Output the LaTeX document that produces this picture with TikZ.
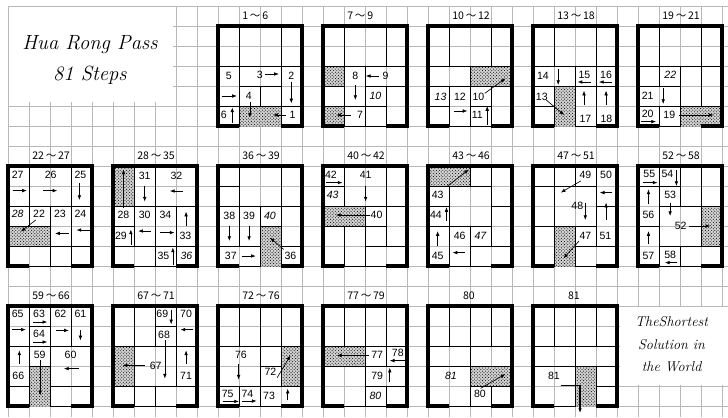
\documentclass[tikz,border=0pt]{standalone}
\usepackage{fontspec}
\newfontfamily\numfont{Liberation Sans}
\newfontfamily\cjk{Noto Sans CJK SC}
\usetikzlibrary{arrows.meta,patterns}

\begin{document}
\begin{tikzpicture}[x=0.7cm,y=-0.6667cm,>={Latex[length=4.5pt,width=3.4pt]},
  gridline/.style={black!28,line width=0.5pt},
  piece/.style={draw=black,line width=0.8pt},
  hole/.style={fill=black!18,postaction={pattern=crosshatch dots,pattern color=black}},
  wall/.style={line width=3.3pt,line join=miter},
  mv/.style={->,line width=0.6pt},
  num/.style={inner sep=0pt,font=\numfont\fontsize{10}{12}\selectfont},
  nxt/.style={inner sep=0pt,font=\numfont\itshape\fontsize{10}{12}\selectfont},
  stage/.style={inner sep=0pt,anchor=west,font=\cjk\fontsize{10}{12}\selectfont},
  hand/.style={inner sep=0pt,font=\itshape\fontsize{19.5}{23}\selectfont}]
\useasboundingbox (-0.381,-0.3) rectangle (34.286,20.55);
% background grid
\foreach \i in {0,...,34} \draw[gridline] (\i,0) -- (\i,20.55);
\foreach \j in {0,...,20} \draw[gridline] (0,\j) -- (34.286,\j);
% title
\fill[white] (0.05,0.05) rectangle (7.85,4.8);
\node[hand] (title) at (3.9,1.95) {Hua Rong Pass};
\node[hand] (count) at (3.9,3.45) {81 Steps};
% closing words
\fill[white] (29.12,15.05) rectangle (34.286,18.95);
\node[hand,font=\itshape\fontsize{13.5}{16}\selectfont] (motto1) at (31.6,15.8) {TheShortest};
\node[hand,font=\itshape\fontsize{13.5}{16}\selectfont] (motto2) at (31.6,16.95) {Solution in};
\node[hand,font=\itshape\fontsize{13.5}{16}\selectfont] (motto3) at (31.6,18.05) {the World};

% moves 1~6
\begin{scope}[shift={(10,1)}]
  \node[stage] (s1) at (1.15,-0.5) {1\,～\,6};
  \fill[hole] (1,4) rectangle (3,5);
  \foreach \a/\b/\c/\d in {0/0/1/2,1/0/3/2,3/0/4/2,0/2/1/4,1/2/3/3,3/2/4/4,1/3/2/4,2/3/3/4,0/4/1/5,3/4/4/5}
    \draw[piece] (\a,\b) rectangle (\c,\d);
  \node[num] (m5) at (0.52,2.5) {5};
  \node[num] (m3) at (1.99,2.45) {3};
  \node[num] (m2) at (3.49,2.5) {2};
  \node[num] (m4) at (1.47,3.5) {4};
  \node[num] (m6) at (0.28,4.45) {6};
  \node[num] (m1) at (3.55,4.45) {1};
  \draw[mv] (0.2,3.5) -- (0.9,3.5);
  \draw[mv] (2.23,2.4) -- (2.9,2.4);
  \draw[mv] (3.49,2.8) -- (3.49,3.87);
  \draw[mv] (1.52,3.78) -- (1.52,4.58);
  \draw[mv] (0.68,4.85) -- (0.68,4.07);
  \draw[mv] (3.26,4.45) -- (2.62,4.45);
  \draw[wall] (1,5) -- (0,5) -- (0,0) -- (4,0) -- (4,5) -- (3,5);
\end{scope}
% moves 7~9
\begin{scope}[shift={(15,1)}]
  \node[stage] (s7) at (1.15,-0.5) {7\,～\,9};
  \fill[hole] (0,2) rectangle (1,3) (0,4) rectangle (1,5);
  \foreach \a/\b/\c/\d in {0/0/1/2,1/0/3/2,3/0/4/2,1/2/2/4,2/2/4/3,2/3/3/4,3/3/4/5,0/3/1/4,1/4/2/5,2/4/3/5}
    \draw[piece] (\a,\b) rectangle (\c,\d);
  \node[num] (m8) at (1.54,2.5) {8};
  \node[num] (m9) at (2.98,2.5) {9};
  \node[nxt] (n10) at (2.5,3.5) {10};
  \node[num] (m7) at (1.77,4.45) {7};
  \draw[mv] (1.54,2.95) -- (1.54,3.7);
  \draw[mv] (2.67,2.5) -- (2.04,2.5);
  \draw[mv] (1.33,4.45) -- (0.63,4.45);
  \draw[wall] (1,5) -- (0,5) -- (0,0) -- (4,0) -- (4,5) -- (3,5);
\end{scope}
% moves 10~12
\begin{scope}[shift={(20,1)}]
  \node[stage] (s10) at (1.15,-0.5) {10\,～\,12};
  \fill[hole] (2,2) rectangle (4,3);
  \foreach \a/\b/\c/\d in {0/0/1/2,1/0/3/2,3/0/4/2,0/2/2/3,0/3/1/4,0/4/1/5,1/3/2/5,2/3/3/4,2/4/3/5,3/3/4/5}
    \draw[piece] (\a,\b) rectangle (\c,\d);
  \node[nxt] (n13) at (0.6,3.53) {13};
  \node[num] (m12) at (1.52,3.53) {12};
  \node[num] (m10) at (2.4,3.53) {10};
  \node[num] (m11) at (2.35,4.45) {11};
  \draw[mv] (1.22,4.25) -- (1.88,4.25);
  \draw[mv] (2.7,3.37) -- (3.69,2.62);
  \draw[mv] (2.82,4.95) -- (2.82,4.0);
  \draw[wall] (1,5) -- (0,5) -- (0,0) -- (4,0) -- (4,5) -- (3,5);
\end{scope}
% moves 13~18
\begin{scope}[shift={(25,1)}]
  \node[stage] (s13) at (1.15,-0.5) {13\,～\,18};
  \fill[hole] (1,3) rectangle (2,5);
  \foreach \a/\b/\c/\d in {0/0/1/2,1/0/3/2,3/0/4/2,0/2/2/3,2/2/3/3,3/2/4/3,0/3/1/4,0/4/1/5,2/3/3/5,3/3/4/5}
    \draw[piece] (\a,\b) rectangle (\c,\d);
  \node[num] (m14) at (0.47,2.5) {14};
  \node[num] (m15) at (2.45,2.45) {15};
  \node[num] (m16) at (3.48,2.45) {16};
  \node[num] (m13) at (0.42,3.53) {13};
  \node[num] (m17) at (2.5,4.62) {17};
  \node[num] (m18) at (3.5,4.62) {18};
  \draw[mv] (1.2,2.17) -- (1.2,2.95);
  \draw[mv] (2.75,2.8) -- (2.12,2.8);
  \draw[mv] (3.76,2.8) -- (3.14,2.8);
  \draw[mv] (0.63,3.7) -- (1.49,4.45);
  \draw[mv] (2.43,3.95) -- (2.43,3.23);
  \draw[mv] (3.48,3.95) -- (3.48,3.23);
  \draw[wall] (1,5) -- (0,5) -- (0,0) -- (4,0) -- (4,5) -- (3,5);
\end{scope}
% moves 19~21
\begin{scope}[shift={(30,1)}]
  \node[stage] (s19) at (1.15,-0.5) {19\,～\,21};
  \fill[hole] (2,4) rectangle (4,5);
  \foreach \a/\b/\c/\d in {0/0/1/2,1/0/3/2,3/0/4/2,0/2/1/3,1/2/2/3,2/2/3/4,3/2/4/4,0/3/2/4,0/4/1/5,1/4/2/5}
    \draw[piece] (\a,\b) rectangle (\c,\d);
  \node[nxt] (n22) at (1.54,2.45) {22};
  \node[num] (m21) at (0.46,3.5) {21};
  \node[num] (m20) at (0.46,4.4) {20};
  \node[num] (m19) at (1.49,4.45) {19};
  \draw[mv] (1.2,3.12) -- (1.2,3.9);
  \draw[mv] (0.14,4.78) -- (0.86,4.78);
  \draw[mv] (1.97,4.45) -- (3.6,4.45);
  \draw[wall] (1,5) -- (0,5) -- (0,0) -- (4,0) -- (4,5) -- (3,5);
\end{scope}
% moves 22~27
\begin{scope}[shift={(0,8)}]
  \node[stage] (s22) at (1.15,-0.5) {22\,～\,27};
  \fill[hole] (0,3) rectangle (2,4);
  \foreach \a/\b/\c/\d in {0/0/1/2,1/0/3/2,3/0/4/2,0/2/1/3,1/2/2/3,2/2/3/4,3/2/4/4,0/4/2/5,2/4/3/5,3/4/4/5}
    \draw[piece] (\a,\b) rectangle (\c,\d);
  \node[num] (m27) at (0.46,0.45) {27};
  \node[num] (m26) at (2.03,0.45) {26};
  \node[num] (m25) at (3.45,0.45) {25};
  \node[nxt] (n28) at (0.46,2.4) {28};
  \node[num] (m22) at (1.48,2.4) {22};
  \node[num] (m23) at (2.47,2.4) {23};
  \node[num] (m24) at (3.45,2.4) {24};
  \draw[mv] (0.22,1.23) -- (0.9,1.23);
  \draw[mv] (1.69,1.23) -- (2.35,1.23);
  \draw[mv] (3.4,0.87) -- (3.4,1.7);
  \draw[mv] (1.32,2.7) -- (0.61,3.28);
  \draw[mv] (2.9,3.37) -- (2.24,3.37);
  \draw[mv] (3.89,3.2) -- (3.26,3.2);
  \draw[wall] (1,5) -- (0,5) -- (0,0) -- (4,0) -- (4,5) -- (3,5);
\end{scope}
% moves 28~35
\begin{scope}[shift={(5,8)}]
  \node[stage] (s28) at (1.15,-0.5) {28\,～\,35};
  \fill[hole] (0,0) rectangle (1,2);
  \foreach \a/\b/\c/\d in {1/0/2/2,2/0/4/2,0/2/1/3,1/2/2/4,2/2/3/4,3/2/4/4,0/3/1/4,0/4/2/5,2/4/3/5,3/4/4/5}
    \draw[piece] (\a,\b) rectangle (\c,\d);
  \node[num] (m28) at (0.5,2.45) {28};
  \node[num] (m31) at (1.51,0.5) {31};
  \node[num] (m32) at (3.02,0.5) {32};
  \node[num] (m30) at (1.51,2.45) {30};
  \node[num] (m34) at (2.5,2.45) {34};
  \node[num] (m33) at (3.45,3.5) {33};
  \node[num] (m29) at (0.38,3.5) {29};
  \node[num] (m35) at (2.4,4.5) {35};
  \node[nxt] (n36) at (3.5,4.5) {36};
  \draw[mv] (0.5,2.08) -- (0.5,0.17);
  \draw[mv] (1.51,1.0) -- (1.51,1.78);
  \draw[mv] (3.34,1.25) -- (2.71,1.25);
  \draw[mv] (1.8,3.25) -- (1.2,3.25);
  \draw[mv] (2.24,3.33) -- (2.93,3.33);
  \draw[mv] (3.48,3.0) -- (3.48,2.28);
  \draw[mv] (0.85,3.95) -- (0.85,3.17);
  \draw[mv] (2.85,4.95) -- (2.85,4.07);
  \draw[wall] (1,5) -- (0,5) -- (0,0) -- (4,0) -- (4,5) -- (3,5);
\end{scope}
% moves 36~39
\begin{scope}[shift={(10,8)}]
  \node[stage] (s36) at (1.15,-0.5) {36\,～\,39};
  \fill[hole] (2,3) rectangle (3,5);
  \foreach \a/\b/\c/\d in {0/0/1/1,0/1/1/2,1/0/3/2,3/0/4/2,0/2/1/4,1/2/2/4,2/2/3/3,3/2/4/4,0/4/2/5,3/4/4/5}
    \draw[piece] (\a,\b) rectangle (\c,\d);
  \node[num] (m38) at (0.54,2.5) {38};
  \node[num] (m39) at (1.48,2.5) {39};
  \node[nxt] (n40) at (2.47,2.5) {40};
  \node[num] (m37) at (0.61,4.5) {37};
  \node[num] (m36) at (3.45,4.5) {36};
  \draw[mv] (0.54,3.0) -- (0.54,3.75);
  \draw[mv] (1.48,3.0) -- (1.48,3.75);
  \draw[mv] (1.12,4.5) -- (1.8,4.5);
  \draw[mv] (3.13,4.17) -- (2.47,3.58);
  \draw[wall] (1,5) -- (0,5) -- (0,0) -- (4,0) -- (4,5) -- (3,5);
\end{scope}
% moves 40~42
\begin{scope}[shift={(15,8)}]
  \node[stage] (s40) at (1.15,-0.5) {40\,～\,42};
  \fill[hole] (0,2) rectangle (2,3);
  \foreach \a/\b/\c/\d in {0/0/1/1,0/1/1/2,1/0/3/2,3/0/4/2,2/2/3/3,3/2/4/4,0/3/1/5,1/3/2/5,2/3/3/4,2/4/4/5}
    \draw[piece] (\a,\b) rectangle (\c,\d);
  \node[num] (m42) at (0.38,0.42) {42};
  \node[nxt] (n43) at (0.46,1.42) {43};
  \node[num] (m41) at (2.03,0.42) {41};
  \node[num] (m40) at (2.55,2.45) {40};
  \draw[mv] (0.14,0.83) -- (0.93,0.83);
  \draw[mv] (2.03,1.0) -- (2.03,1.78);
  \draw[mv] (2.22,2.45) -- (0.61,2.45);
  \draw[wall] (1,5) -- (0,5) -- (0,0) -- (4,0) -- (4,5) -- (3,5);
\end{scope}
% moves 43~46
\begin{scope}[shift={(20,8)}]
  \node[stage] (s43) at (1.15,-0.5) {43\,～\,46};
  \fill[hole] (0,0) rectangle (2,1);
  \foreach \a/\b/\c/\d in {2/0/3/1,3/0/4/2,0/1/1/2,1/1/3/3,0/2/1/3,3/2/4/4,0/3/1/5,1/3/2/5,2/3/3/4,2/4/4/5}
    \draw[piece] (\a,\b) rectangle (\c,\d);
  \node[num] (m43) at (0.46,1.42) {43};
  \node[num] (m44) at (0.38,2.42) {44};
  \node[num] (m45) at (0.46,4.5) {45};
  \node[num] (m46) at (1.51,3.5) {46};
  \node[nxt] (n47) at (2.5,3.5) {47};
  \draw[mv] (0.93,1.0) -- (1.95,0.17);
  \draw[mv] (0.88,2.75) -- (0.88,2.05);
  \draw[mv] (0.46,4.0) -- (0.46,3.25);
  \draw[mv] (1.75,4.33) -- (1.17,4.33);
  \draw[wall] (1,5) -- (0,5) -- (0,0) -- (4,0) -- (4,5) -- (3,5);
\end{scope}
% moves 47~51
\begin{scope}[shift={(25,8)}]
  \node[stage] (s47) at (1.15,-0.5) {47\,～\,51};
  \fill[hole] (1,3) rectangle (2,5);
  \foreach \a/\b/\c/\d in {0/0/1/1,1/0/2/1,2/0/3/1,3/0/4/2,0/1/1/3,1/1/3/3,0/3/1/5,2/3/3/4,3/2/4/4,2/4/4/5}
    \draw[piece] (\a,\b) rectangle (\c,\d);
  \node[num] (m49) at (2.5,0.42) {49};
  \node[num] (m50) at (3.48,0.42) {50};
  \node[num] (m48) at (2.11,2.0) {48};
  \node[num] (m47) at (2.5,3.5) {47};
  \node[num] (m51) at (3.45,3.5) {51};
  \draw[mv] (2.27,0.75) -- (1.32,1.33);
  \draw[mv] (3.76,1.33) -- (3.18,1.33);
  \draw[mv] (2.49,1.83) -- (2.49,2.7);
  \draw[mv] (2.19,3.75) -- (1.45,4.62);
  \draw[mv] (3.48,2.72) -- (3.48,1.83);
  \draw[wall] (1,5) -- (0,5) -- (0,0) -- (4,0) -- (4,5) -- (3,5);
\end{scope}
% moves 52~58
\begin{scope}[shift={(30,8)}]
  \node[stage] (s52) at (1.15,-0.5) {52\,～\,58};
  \fill[hole] (3,2) rectangle (4,4);
  \foreach \a/\b/\c/\d in {0/0/1/1,1/0/2/1,2/0/3/2,3/0/4/2,1/1/2/2,0/1/1/3,0/3/1/5,1/2/3/4,1/4/2/5,2/4/4/5}
    \draw[piece] (\a,\b) rectangle (\c,\d);
  \node[num] (m55) at (0.54,0.42) {55};
  \node[num] (m54) at (1.4,0.42) {54};
  \node[num] (m53) at (1.53,1.42) {53};
  \node[num] (m56) at (0.5,2.45) {56};
  \node[num] (m57) at (0.5,4.5) {57};
  \node[num] (m52) at (2.03,3.0) {52};
  \node[num] (m58) at (1.53,4.42) {58};
  \draw[mv] (0.25,0.83) -- (0.93,0.83);
  \draw[mv] (1.83,0.2) -- (1.83,1.0);
  \draw[mv] (1.53,1.83) -- (1.53,2.5);
  \draw[mv] (0.5,1.92) -- (0.5,1.17);
  \draw[mv] (0.5,3.92) -- (0.5,3.25);
  \draw[mv] (2.43,3.0) -- (3.45,3.0);
  \draw[mv] (1.87,4.83) -- (1.28,4.83);
  \draw[wall] (1,5) -- (0,5) -- (0,0) -- (4,0) -- (4,5) -- (3,5);
\end{scope}
% moves 59~66
\begin{scope}[shift={(0,15)}]
  \node[stage] (s59) at (1.15,-0.5) {59\,～\,66};
  \fill[hole] (1,3) rectangle (2,5);
  \foreach \a/\b/\c/\d in {0/0/1/2,1/0/2/1,1/1/2/2,2/0/3/2,3/0/4/2,0/2/1/4,1/2/2/3,2/2/4/4,0/4/1/5,2/4/4/5}
    \draw[piece] (\a,\b) rectangle (\c,\d);
  \node[num] (m65) at (0.46,0.38) {65};
  \node[num] (m63) at (1.48,0.38) {63};
  \node[num] (m64) at (1.48,1.38) {64};
  \node[num] (m62) at (2.5,0.38) {62};
  \node[num] (m61) at (3.45,0.38) {61};
  \node[num] (m66) at (0.49,3.47) {66};
  \node[num] (m59) at (1.51,2.42) {59};
  \node[num] (m60) at (2.98,2.42) {60};
  \draw[mv] (0.19,1.18) -- (0.85,1.18);
  \draw[mv] (1.2,0.8) -- (1.87,0.8);
  \draw[mv] (1.2,1.8) -- (1.87,1.8);
  \draw[mv] (2.27,1.22) -- (2.9,1.22);
  \draw[mv] (3.45,1.22) -- (3.45,1.72);
  \draw[mv] (0.54,2.88) -- (0.54,2.22);
  \draw[mv] (1.53,2.68) -- (1.53,4.47);
  \draw[mv] (3.37,3.13) -- (2.66,3.13);
  \draw[wall] (1,5) -- (0,5) -- (0,0) -- (4,0) -- (4,5) -- (3,5);
\end{scope}
% moves 67~71
\begin{scope}[shift={(5,15)}]
  \node[stage] (s67) at (1.15,-0.5) {67\,～\,71};
  \fill[hole] (0,2) rectangle (1,4);
  \foreach \a/\b/\c/\d in {0/0/1/2,1/0/2/2,2/0/3/1,2/1/3/2,3/0/4/2,1/2/3/4,3/2/4/4,0/4/1/5,1/4/2/5,2/4/4/5}
    \draw[piece] (\a,\b) rectangle (\c,\d);
  \node[num] (m69) at (2.35,0.38) {69};
  \node[num] (m70) at (3.48,0.38) {70};
  \node[num] (m68) at (2.43,1.43) {68};
  \node[num] (m67) at (2.03,2.97) {67};
  \node[num] (m71) at (3.48,3.47) {71};
  \draw[mv] (2.77,0.18) -- (2.77,0.92);
  \draw[mv] (3.81,1.18) -- (3.21,1.18);
  \draw[mv] (2.47,1.72) -- (2.47,3.63);
  \draw[mv] (1.53,2.97) -- (0.46,2.97);
  \draw[mv] (3.48,2.88) -- (3.48,2.22);
  \draw[wall] (1,5) -- (0,5) -- (0,0) -- (4,0) -- (4,5) -- (3,5);
\end{scope}
% moves 72~76
\begin{scope}[shift={(10,15)}]
  \node[stage] (s72) at (1.15,-0.5) {72\,～\,76};
  \fill[hole] (3,2) rectangle (4,4);
  \foreach \a/\b/\c/\d in {0/0/1/2,1/0/2/2,2/0/3/2,3/0/4/2,0/2/2/4,2/2/3/3,2/3/3/4,0/4/1/5,1/4/2/5,2/4/4/5}
    \draw[piece] (\a,\b) rectangle (\c,\d);
  \node[num] (m76) at (1.09,2.42) {76};
  \node[num] (m72) at (2.5,3.3) {72};
  \node[num] (m75) at (0.46,4.38) {75};
  \node[num] (m74) at (1.4,4.38) {74};
  \node[num] (m73) at (2.43,4.47) {73};
  \draw[mv] (0.98,2.88) -- (0.98,3.68);
  \draw[mv] (2.82,3.58) -- (3.45,2.47);
  \draw[mv] (0.22,4.77) -- (1.0,4.77);
  \draw[mv] (1.12,4.75) -- (1.84,4.75);
  \draw[mv] (3.32,4.72) -- (3.32,4.13);
  \draw[wall] (1,5) -- (0,5) -- (0,0) -- (4,0) -- (4,5) -- (3,5);
\end{scope}
% moves 77~79
\begin{scope}[shift={(15,15)}]
  \node[stage] (s77) at (1.15,-0.5) {77\,～\,79};
  \fill[hole] (0,2) rectangle (2,3);
  \foreach \a/\b/\c/\d in {0/0/1/2,1/0/2/2,2/0/3/2,3/0/4/2,2/2/3/3,3/2/4/3,2/3/4/4,0/3/2/5,2/4/3/5,3/4/4/5}
    \draw[piece] (\a,\b) rectangle (\c,\d);
  \node[num] (m77) at (2.58,2.42) {77};
  \node[num] (m78) at (3.56,2.35) {78};
  \node[num] (m79) at (2.58,3.47) {79};
  \node[nxt] (n80) at (2.5,4.47) {80};
  \draw[mv] (2.19,2.47) -- (0.66,2.47);
  \draw[mv] (3.92,2.73) -- (3.18,2.73);
  \draw[mv] (3.18,3.8) -- (3.18,3.08);
  \draw[wall] (1,5) -- (0,5) -- (0,0) -- (4,0) -- (4,5) -- (3,5);
\end{scope}
% move 80
\begin{scope}[shift={(20,15)}]
  \node[stage,anchor=center] (s80) at (1.95,-0.5) {80};
  \fill[hole] (2,3) rectangle (4,4);
  \foreach \a/\b/\c/\d in {0/0/1/2,1/0/2/2,2/0/3/2,3/0/4/2,0/2/2/3,2/2/4/3,0/3/2/5,2/4/3/5,3/4/4/5}
    \draw[piece] (\a,\b) rectangle (\c,\d);
  \node[nxt] (n81) at (1.09,3.5) {81};
  \node[num] (m80) at (2.47,4.4) {80};
  \draw[mv] (2.5,4.12) -- (3.69,3.4);
  \draw[wall] (1,5) -- (0,5) -- (0,0) -- (4,0) -- (4,5) -- (3,5);
\end{scope}
% move 81
\begin{scope}[shift={(25,15)}]
  \node[stage,anchor=center] (s81) at (1.95,-0.5) {81};
  \fill[hole] (2,3) rectangle (3,5);
  \foreach \a/\b/\c/\d in {0/0/1/2,1/0/2/2,2/0/3/2,3/0/4/2,0/2/2/3,2/2/4/3,0/3/2/5,3/3/4/4,3/4/4/5}
    \draw[piece] (\a,\b) rectangle (\c,\d);
  \node[num] (m81) at (1.0,3.47) {81};
  \draw[mv,line width=1.4pt] (1.32,3.97) -- (2.24,3.97) -- (2.24,5.35);
  \draw[wall] (1,5) -- (0,5) -- (0,0) -- (4,0) -- (4,5) -- (3,5);
\end{scope}
\end{tikzpicture}
\end{document}
